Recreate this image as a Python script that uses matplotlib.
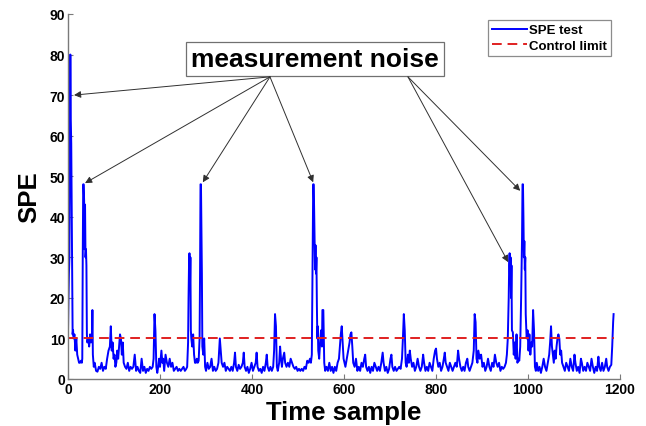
import matplotlib
matplotlib.use("Agg")
import matplotlib.pyplot as plt

plt.rcParams['font.family'] = ['Liberation Sans', 'DejaVu Sans']

# SPE statistic (sample index, value)
time = [0, 1, 2, 3, 4, 5, 6, 7, 8, 9, 10, 11, 12, 14, 16, 18, 20, 22, 24, 26, 28, 30,
        31, 32, 33, 34, 35, 36, 37, 38, 39, 40, 41, 42, 44, 46, 48, 50, 52, 53, 54, 56,
        58, 61, 64, 67, 70, 73, 76, 79, 82, 85, 88, 91, 93, 95, 97, 99, 101, 103, 105,
        107, 109, 111, 113, 115, 117, 119, 121, 124, 127, 130, 133, 136, 139, 142, 145,
        148, 151, 154, 157, 160, 163, 166, 169, 172, 175, 178, 181, 184, 186, 188, 190,
        192, 194, 196, 198, 200, 203, 205, 207, 209, 212, 215, 218, 221, 224, 227, 230,
        233, 236, 239, 242, 245, 248, 251, 254, 257, 259,
        261, 262, 263, 264, 265, 266, 267, 268, 270, 272, 274, 276, 278, 280, 282, 284,
        286, 287, 288, 289, 290, 291, 292, 294, 296, 298,
        300, 303, 306, 309, 312, 315, 318, 321, 324, 327, 330, 332, 334, 337, 340, 343,
        346, 349, 352, 355, 358, 361, 363, 365, 368, 371, 374, 377, 380, 382, 384, 387,
        390, 393, 396, 399, 402, 405, 408, 410, 412, 415, 418, 421, 424, 427, 430, 432,
        434, 437, 440, 443, 446, 448, 450, 452, 454, 456, 459, 461, 463, 465, 467, 470,
        472, 475, 478, 481, 484, 487, 490, 493, 496, 499, 502, 505, 508, 511, 514, 517,
        520, 523, 526, 528,
        530, 531, 532, 533, 534, 535, 536, 537, 538, 539, 540, 541, 542, 543, 544, 546,
        548, 550, 552, 553, 555, 556, 557, 559,
        562, 565, 568, 571, 574, 577, 580, 583, 586, 589, 591, 593, 595, 597, 599, 601,
        603, 606, 609, 612, 614, 616, 618, 620, 623, 626, 629, 632, 635, 638, 641, 644,
        646, 648, 651, 654, 657, 660, 663, 666, 669, 672, 675, 678, 681, 684, 686, 689,
        692, 695, 698, 701, 703, 705, 708, 711, 714, 717, 720, 723, 726, 728, 730, 732,
        734, 736, 739, 741, 743, 745, 748, 751, 754, 757, 760, 763, 766, 769, 772, 774,
        777, 780, 783, 786, 789, 792, 795, 798, 800, 802, 805, 808, 811, 814, 817, 819,
        821, 824, 827, 830, 833, 836, 839, 842, 845, 848, 850, 853, 856, 859, 862, 865,
        868, 870, 873, 876, 879, 882, 884, 886, 888, 890, 892, 895, 898, 901, 904, 907,
        910, 913, 916, 919, 922, 925, 928, 931, 934, 937, 940, 943, 946, 949, 952, 954,
        956, 958, 959, 960, 961, 962, 963, 964, 965, 967, 969, 971, 973, 975, 977, 979,
        981, 983, 985, 987, 988, 989, 990, 991, 992, 993, 994, 995, 997, 999, 1001, 1003,
        1005, 1007, 1009, 1011, 1013, 1015, 1017,
        1019, 1022, 1025, 1028, 1031, 1034, 1037, 1040, 1043, 1046, 1048, 1050, 1052,
        1054, 1056, 1058, 1060, 1062, 1064, 1066, 1068, 1070, 1072, 1074, 1077, 1080,
        1083, 1086, 1089, 1092, 1095, 1098, 1101, 1103, 1106, 1109, 1112, 1115, 1117,
        1120, 1123, 1126, 1129, 1132, 1135, 1138, 1141, 1144, 1147, 1150, 1153, 1155,
        1158, 1161, 1164, 1167, 1170, 1172, 1175, 1178, 1181, 1183, 1185, 1186]

spe = [12, 20, 26, 30, 58, 80, 64, 58, 42, 25, 11, 12, 10, 11, 7, 10, 6, 5, 4, 4, 4.5, 4,
       5, 30, 48, 48, 44, 32, 43, 30, 32, 28, 11, 9, 10, 8, 11, 9, 10, 17, 6, 3,
       4, 2, 1.8, 3, 2.5, 4, 2, 3, 2.5, 5, 7, 8, 13, 7, 9, 5, 6, 3, 4,
       7, 5, 8, 11, 10, 6, 9, 4, 3, 2.5, 4, 2, 3, 2.5, 3, 6,
       2, 3, 2, 1.5, 5, 2, 3, 1.5, 2.5, 2, 3, 2.5, 3, 5, 16, 12,
       3, 1.5, 3, 5, 3, 7, 4, 5, 2, 6, 4, 3, 5, 3, 4, 2,
       2.5, 3, 2, 2.5, 2, 2.5, 3, 2, 2.5, 3,
       9, 20, 28, 31, 22, 30, 12, 10, 8, 11, 6, 4, 4, 5, 4, 4.5,
       10, 26, 48, 48, 38, 26, 8, 6, 10, 3,
       2, 4, 2.5, 3, 5, 2, 3, 2, 2.5, 4, 10, 7, 4, 3, 4, 2,
       3, 2.5, 2, 3, 2, 4, 6.5, 3, 2, 3.5, 2.5, 3, 4, 6.5, 3, 2,
       3, 1.5, 2.5, 4, 2, 3, 4, 6.5, 3, 2, 2.5, 1.5, 3, 2, 4, 6,
       3, 2, 3, 2, 3, 7, 16, 13, 3, 2, 4, 8, 5, 3, 5, 6.5,
       4, 3, 4, 3, 5, 4, 3, 2.5, 3, 2, 2.5, 2, 2.5, 2, 3, 2.5,
       4.5, 4, 5, 4,
       6, 20, 35, 48, 48, 42, 34, 27, 33, 26, 30, 18, 10, 13, 7, 5,
       9, 12, 8, 17, 17, 10, 4, 2,
       3, 2, 4, 2, 3, 1.5, 3, 2, 4, 5, 8, 11, 13, 9, 5, 4,
       3, 5, 7, 9, 11, 11.5, 8, 4, 3, 5, 2, 3, 2, 4, 3, 5,
       6, 3, 2, 3, 1.5, 3, 2, 4, 3, 2, 3, 2, 4, 6.5, 4, 2,
       3, 1.5, 2.5, 5, 6, 3, 2, 3, 2, 2.5, 3, 2.5, 5, 10, 16, 12,
       4, 3, 6, 4, 7, 5, 3, 4, 2, 3, 5, 3, 2, 3, 6, 4,
       2, 3, 2, 4, 3, 2, 5, 7, 7.5, 5, 3, 4, 2, 3, 5, 6.5,
       4, 3, 2, 4, 3, 2, 3, 4, 3, 7, 5, 3, 2, 3, 2, 4,
       5, 3, 2, 3, 4, 7, 16, 14, 5, 4, 7, 5, 6, 3, 4, 2,
       3, 5, 3, 2, 4, 3, 6, 4, 3, 4, 2, 3, 2.5, 3, 4, 6,
       10, 20, 28, 31, 24, 30, 20, 28, 12, 11.5, 6, 9, 5, 11, 4, 5,
       4.5, 8, 20, 35, 48, 48, 40, 30, 34, 27, 30, 16, 10, 12, 7, 11,
       6, 9, 8, 17, 12, 3, 2,
       4, 2, 3, 1.5, 3, 5, 3, 2, 4, 6, 9, 13, 8,
       6, 4, 7, 5, 8, 10, 11, 10, 6, 7, 4, 3, 2,
       4, 3, 2, 5, 3, 2, 6, 4, 2, 3, 1.5, 5, 4,
       2, 3, 2, 4, 3, 2, 5, 3, 1.5, 3, 2, 5.5, 3,
       2, 4, 2, 3, 5, 3, 2, 3, 3.5, 8, 14, 16]

control_limit = 10
y_ticks = [0, 10, 20, 30, 40, 50, 60, 70, 80, 90]
x_ticks = [0, 200, 400, 600, 800, 1000, 1200]

# arrow tips (data) grouped by the point they leave the label box from
tips_left = [(13, 70), (37, 48.3), (293, 48.5), (533, 48.5)]
tips_right = [(957, 28.8), (983, 46.4)]
origin_left = (439, 74.5)
origin_right = (739, 74.5)

fig = plt.figure(figsize=(6.46, 4.27), dpi=100)
ax = fig.add_axes([0.1053, 0.1101, 0.8545, 0.8548])

ax.plot(time, spe, color='#0000ff', linewidth=1.4, label='SPE test')
ax.plot([time[0], time[-1]], [control_limit, control_limit], color='#e02020',
        linestyle=(0, (5, 3)), linewidth=1.4, label='Control limit')

ax.set_xlim(0, 1200)
ax.set_ylim(0, 90)
ax.set_xticks(x_ticks)
ax.set_yticks(y_ticks)
ax.spines['top'].set_visible(False)
ax.spines['right'].set_visible(False)
for side in ('left', 'bottom'):
    ax.spines[side].set_color('#7a7a7a')
    ax.spines[side].set_linewidth(1.0)
ax.tick_params(direction='in', length=3.5, color='#7a7a7a', labelsize=10, pad=2)
for lab in ax.get_xticklabels() + ax.get_yticklabels():
    lab.set_fontweight('bold')

ax.set_xlabel('Time sample', fontsize=18.5, fontweight='bold', labelpad=3)
ax.set_ylabel('SPE', fontsize=18.5, fontweight='bold', labelpad=6)

leg = ax.legend(loc='upper right', bbox_to_anchor=(611 / 646, 1 - 21 / 427),
                bbox_transform=fig.transFigure, borderaxespad=0, fancybox=False,
                prop={'weight': 'bold', 'size': 9.5}, handlelength=2.6,
                handletextpad=0.2, labelspacing=0.25, borderpad=0.3)
leg.get_frame().set_edgecolor('#707070')
leg.get_frame().set_linewidth(0.9)

ax.text(537, 78.9, 'measurement noise', fontsize=19, fontweight='bold',
        ha='center', va='center',
        bbox=dict(boxstyle='square,pad=0.2', facecolor='white', edgecolor='#707070', linewidth=0.9))

arrow_style = dict(arrowstyle='-|>', color='#303030', linewidth=0.7,
                   mutation_scale=10, shrinkA=0, shrinkB=0)
for tip in tips_left:
    ax.annotate('', xy=tip, xytext=origin_left, arrowprops=arrow_style)
for tip in tips_right:
    ax.annotate('', xy=tip, xytext=origin_right, arrowprops=arrow_style)

fig.savefig('out.png', dpi=100)
